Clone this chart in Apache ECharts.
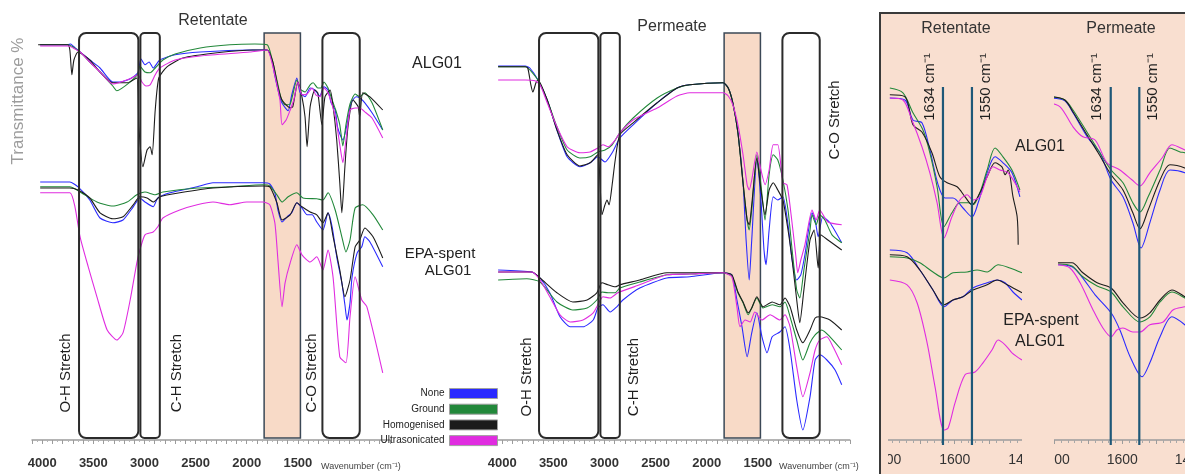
<!DOCTYPE html>
<html>
<head>
<meta charset="utf-8">
<title>FTIR spectra – Retentate and Permeate</title>
<script src="https://cdn.jsdelivr.net/npm/echarts@6/dist/echarts.min.js"></script>
<style>
  html, body { margin: 0; padding: 0; background: #fff; }
  #stage { position: relative; width: 1185px; height: 474px; overflow: hidden; }
  #main { position: absolute; left: 0; top: 0; width: 1185px; height: 474px; }
  .clip { position: absolute; top: 0; height: 474px; overflow: hidden; }
  .clip > div { position: absolute; top: 0; width: 1400px; height: 474px; }
</style>
</head>
<body>
<div id="stage">
  <div id="main"></div>
  <div class="clip" style="left:888px;width:134px"><div id="zoomRet" style="left:-888px"></div></div>
  <div class="clip" style="left:1054px;width:131px"><div id="zoomPer" style="left:-1054px"></div></div>
</div>
<script>
// ---------------- data: [wavenumber (cm-1), transmittance (offset, a.u.)] ----------------
const treatments = ['None', 'Ground', 'Homogenised', 'Ultrasonicated'];

// Retentate, ALG01
const retAlgNone = [[4020,98.8],[3750,98.8],[3720,99],[3700,98.5],[3630,97],[3535,95],[3435,93],[3310,89.5],[3240,89.5],[3140,90.3],[3065,91.8],[3035,95.3],[2995,93.8],[2955,94.5],[2915,93],[2850,95],[2700,96.3],[2455,97],[1970,97.5],[1800,97.5],[1755,95],[1725,91],[1675,85.5],[1645,83.8],[1595,82.3],[1560,86.3],[1510,90.5],[1480,87],[1430,85.8],[1380,88],[1335,87.5],[1285,86],[1245,88.3],[1205,87.5],[1175,84.3],[1135,82.5],[1110,78],[1060,75],[1020,78.8],[980,84.3],[930,85.8],[895,85.5],[845,84.3],[775,81.8],[670,77.5]];
const retAlgGround = [[4020,98.8],[3750,98.8],[3630,97],[3535,94.5],[3435,92],[3310,88.5],[3270,87.3],[3140,89.5],[3065,91.5],[3045,93.5],[2995,92],[2945,91.8],[2895,93],[2820,95],[2700,96.5],[2455,98],[2165,98.8],[1920,99],[1800,98.8],[1755,95.5],[1705,90],[1665,85.5],[1625,83.8],[1575,84],[1510,90],[1480,87.8],[1430,87],[1380,88.8],[1350,89.3],[1305,88],[1275,88],[1245,89.5],[1205,88],[1165,85],[1130,82.5],[1090,78.8],[1060,73.5],[1030,78.8],[990,84],[940,86.5],[895,85.8],[845,86.8],[775,84.3],[670,77.5]];
const retAlgHomog = [[4040,98.8],[3750,98.8],[3730,97.5],[3710,91.3],[3690,95],[3650,97],[3535,95],[3435,92],[3310,89.3],[3170,89.3],[3075,90.5],[3055,78.3],[3015,68.3],[2975,72.5],[2945,73.3],[2925,71.3],[2895,82.5],[2860,90.5],[2780,93.3],[2625,95.5],[2290,96.8],[1940,97.5],[1800,97.5],[1745,94.5],[1695,88.3],[1655,85],[1575,83],[1550,83.3],[1500,89.5],[1460,85.8],[1430,80.8],[1410,73.3],[1380,83.3],[1335,87.5],[1305,86.8],[1265,78.8],[1235,85.8],[1185,87.5],[1155,83.3],[1120,75],[1090,64.3],[1070,56.8],[1040,68.3],[1010,78.3],[960,85],[910,83.3],[895,80.8],[865,86.8],[795,85.8],[670,82.5]];
const retAlgUltra = [[4020,98.5],[3750,98.5],[3630,97],[3535,94.5],[3435,92],[3310,89],[3140,90.3],[3065,91.3],[3025,89.5],[2985,88.5],[2945,88.8],[2895,91.3],[2850,93],[2700,95],[2455,96],[1970,97],[1800,97.5],[1755,94.5],[1715,90],[1675,85],[1655,78.8],[1615,80],[1575,82.5],[1540,85],[1500,89.5],[1460,86.3],[1410,86.5],[1360,88],[1325,86.3],[1285,85.8],[1245,88],[1205,86.8],[1165,83.8],[1130,80.5],[1090,73.8],[1060,69.3],[1030,75],[990,82.5],[940,83],[895,83],[835,81.8],[775,80.5],[670,75.5]];

// Retentate, EPA-spent ALG01
const retEpaNone = [[4020,64.5],[3730,64.5],[3650,63.3],[3535,60],[3435,55.5],[3310,54.3],[3210,55],[3110,58.3],[3045,60.5],[2995,59.5],[2915,58.3],[2870,60.5],[2750,61.8],[2485,63.3],[2330,64.3],[1840,64.3],[1775,64],[1725,61.8],[1695,57.5],[1655,54.5],[1605,55.8],[1560,56.8],[1510,59.3],[1460,58],[1410,56.3],[1360,56.3],[1315,54.5],[1255,52.5],[1205,56.8],[1165,53.3],[1120,45.8],[1070,39.3],[1040,33.8],[1020,30],[990,34.3],[970,40.8],[920,46.8],[875,48.3],[845,50.8],[795,49.5],[670,43.3]];
const retEpaGround = [[4020,63.3],[3730,63.3],[3630,62],[3465,59.5],[3310,58.5],[3170,59.5],[3075,61.3],[2995,62],[2895,61.3],[2820,62],[2485,63],[2165,63.3],[1840,63.8],[1775,63.5],[1705,61.3],[1655,59.5],[1595,60.8],[1510,61.8],[1450,60.5],[1315,60.3],[1255,60],[1205,61.8],[1135,57.5],[1070,50.8],[1030,47],[990,50],[940,58],[865,58.8],[765,56.3],[670,52.5]];
const retEpaHomog = [[4020,63],[3730,63],[3650,62.5],[3535,60.5],[3435,56.8],[3310,55.3],[3210,55.8],[3110,58.8],[3045,60.8],[2975,60.5],[2915,59.5],[2850,60.8],[2655,61.8],[2330,63],[1840,63.5],[1775,63.3],[1705,59.3],[1655,55],[1575,56.3],[1510,59.3],[1460,58.3],[1380,57],[1315,56.3],[1255,54.3],[1205,56.8],[1155,50.8],[1090,42.5],[1040,35.8],[990,40],[940,48.3],[895,50],[845,53],[765,50.8],[670,45.5]];
const retEpaUltra = [[4020,61.8],[3730,61.8],[3680,58.3],[3630,50.8],[3550,43.3],[3465,35.8],[3365,27.5],[3270,25],[3210,26.8],[3140,35],[3075,44.3],[3045,47.5],[2995,51.3],[2915,52],[2870,53.3],[2820,55.5],[2655,57.5],[2485,58.8],[2330,59.5],[2165,58.8],[2000,59.5],[1840,59.5],[1775,58.8],[1725,54.3],[1695,45],[1655,33.3],[1625,39.3],[1575,44.3],[1510,48.8],[1460,46.3],[1380,44.5],[1315,45.8],[1255,42.5],[1205,47.5],[1155,40.5],[1090,20.8],[1030,19.3],[990,30.8],[940,40.8],[875,35],[825,33.3],[670,16.8]];

// Permeate, ALG01
const perAlgNone = [[4040,93.5],[3775,93.5],[3730,93],[3650,90],[3560,85],[3465,77.5],[3365,70.8],[3240,68.3],[3140,69.3],[3065,70.8],[2995,69.5],[2925,71.8],[2850,75.5],[2720,78.8],[2485,84.3],[2290,88],[2165,88.8],[1840,89.3],[1790,88],[1745,84.3],[1695,76.8],[1645,64.3],[1615,50],[1585,40],[1560,50],[1510,70],[1470,60],[1440,47.5],[1420,43.8],[1390,52.5],[1350,60.8],[1305,60],[1255,60.8],[1205,53.8],[1165,45],[1120,40],[1080,41.3],[1040,46.3],[970,56.8],[940,55],[910,50.8],[865,55.8],[795,54.3],[680,49.3]];
const perAlgGround = [[4040,93.3],[3775,93.3],[3650,90],[3560,85],[3465,78.3],[3365,72.5],[3240,70.5],[3140,70.8],[3065,72],[2995,72.5],[2925,73.8],[2850,76.8],[2720,80.5],[2485,85.5],[2290,88],[2165,88.8],[1840,89.3],[1790,88],[1745,84.3],[1695,76.8],[1645,64.3],[1605,55],[1585,52.5],[1560,57.5],[1510,71.3],[1470,63.8],[1430,55],[1390,66.3],[1350,71.3],[1305,70],[1255,65],[1205,57.5],[1165,47.5],[1120,37.5],[1090,35.5],[1050,42.5],[990,52.5],[970,56.3],[930,53.8],[895,56.3],[845,55],[775,51.3],[680,49.3]];
const perAlgHomog = [[4040,93.3],[3775,93.3],[3750,93],[3720,88.8],[3700,87],[3670,89.3],[3650,90],[3560,85],[3465,77.5],[3365,71.3],[3240,68.5],[3140,69.3],[3065,71.3],[3045,65],[3025,56.3],[2995,58.8],[2975,60],[2955,58.8],[2925,63.8],[2895,70],[2850,76.3],[2720,79.3],[2485,84.3],[2290,88],[2165,88.8],[1840,89.3],[1790,88],[1745,84.3],[1695,76.8],[1645,64.3],[1605,55],[1585,53.8],[1560,58.8],[1510,70.5],[1470,62.5],[1430,56.3],[1390,62.5],[1350,64.3],[1305,62.5],[1255,60],[1205,52.5],[1165,45],[1120,35],[1090,29.3],[1050,37.5],[990,50],[950,52.5],[910,43],[885,51.3],[815,50],[680,47.5]];
const perAlgUltra = [[4040,90],[3775,90],[3680,89.8],[3630,88.8],[3560,84.3],[3465,78.3],[3365,73.3],[3240,71.8],[3140,72],[3065,73],[3015,73.8],[2965,73.3],[2895,75],[2850,76.8],[2720,80],[2485,83],[2290,86],[2165,86.8],[1840,86.8],[1790,86],[1745,83.8],[1695,78.8],[1645,71.3],[1605,63.8],[1585,62.5],[1560,65],[1510,72],[1470,67.5],[1430,63.8],[1390,67.5],[1350,73.8],[1305,73.8],[1255,64.3],[1215,63.8],[1175,56.3],[1130,46.3],[1110,41.8],[1080,45],[1040,48.8],[970,57.5],[930,55],[895,57.5],[815,54.5],[680,53.8]];

// Permeate, EPA-spent ALG01
const perEpaNone = [[4040,42.5],[3710,42],[3630,40.5],[3535,36.8],[3435,30.8],[3335,28.3],[3210,28.3],[3110,30],[3065,33],[3015,33.8],[2945,32],[2880,33.3],[2820,35],[2655,38],[2390,40.5],[2165,40.8],[1840,41.8],[1755,41.3],[1705,35],[1655,28.3],[1605,20.8],[1560,26.8],[1510,31.8],[1460,25.8],[1410,21.8],[1360,25.8],[1285,27],[1235,28.3],[1185,22.5],[1120,10],[1060,2.5],[990,10.8],[940,20],[895,21.3],[825,20],[745,17.5],[680,13.8]];
const perEpaGround = [[4040,40],[3760,40.3],[3630,39.5],[3465,34.5],[3310,32.5],[3170,33],[3075,35],[3025,37],[2965,36.8],[2895,36.8],[2850,38],[2655,39.5],[2390,41.3],[2165,41.5],[1840,41.8],[1755,41],[1695,36.8],[1645,34.3],[1595,31.3],[1560,33],[1510,35.5],[1450,33],[1360,33.8],[1285,33.3],[1235,34.5],[1185,30.8],[1120,25],[1060,20],[990,24.3],[940,26.3],[875,27.5],[795,25.8],[680,22.5]];
const perEpaHomog = [[4040,42],[3710,42],[3630,40.5],[3465,36.8],[3310,34.5],[3170,35],[3075,36.8],[3025,39.3],[2965,38.8],[2895,38.3],[2850,38.8],[2655,40],[2390,41.8],[2165,41.8],[1840,41.8],[1755,41.3],[1695,37],[1645,34.5],[1595,31.8],[1560,33],[1510,35.8],[1450,33.3],[1360,34.5],[1285,33.8],[1235,35.5],[1185,33.3],[1120,27.5],[1060,24.3],[990,27.5],[940,30.5],[895,30.8],[795,30],[680,27.5]];
const perEpaUltra = [[4040,42],[3710,42],[3630,40],[3535,35.8],[3435,31.3],[3335,29.5],[3210,30],[3110,31.8],[3065,33.8],[3015,35.8],[2945,35.5],[2870,36.8],[2655,38.8],[2390,41.3],[2165,41.5],[1840,41.8],[1755,40.8],[1705,33.3],[1675,28.3],[1625,30],[1575,29.5],[1530,32],[1460,30],[1380,31.3],[1285,30],[1235,31.3],[1185,28.3],[1120,18.3],[1060,10.8],[990,16.8],[940,22.5],[895,25],[825,25.8],[765,23.3],[680,18.8]];

// Expanded amide region (1800–1400 cm-1), Retentate
const zoomRetAlgNone = [[1788,85.5],[1744,85],[1721,80],[1695,79.3],[1672,72.5],[1648,63.8],[1628,60.5],[1605,60.5],[1576,58],[1550,55.8],[1532,59.3],[1506,66.8],[1483,70.8],[1460,69.3],[1434,66.8],[1411,60.8]];
const zoomRetAlgGround = [[1788,88],[1750,86.8],[1721,81.8],[1692,77.5],[1672,71.8],[1651,63.3],[1631,53.3],[1608,56.8],[1585,59.3],[1561,59.3],[1547,58.8],[1527,61.8],[1506,67.5],[1483,73],[1460,70.8],[1434,67.5],[1411,62.5]];
const zoomRetAlgHomog = [[1788,86.3],[1744,85.8],[1721,78.8],[1695,77],[1666,71.8],[1643,65.8],[1622,64.3],[1593,63.3],[1570,60.8],[1550,58.8],[1527,61.8],[1506,65.8],[1483,69.3],[1463,68.3],[1454,66.3],[1445,67.5],[1431,60.8],[1419,55.8],[1416,48.8]];
const zoomRetAlgUltra = [[1788,85.5],[1750,85],[1724,80],[1695,73.3],[1672,66.8],[1651,59.3],[1631,50.5],[1608,55.8],[1585,60],[1564,61.3],[1547,60],[1527,60.8],[1506,65.8],[1489,68.3],[1469,67.5],[1445,66.8],[1411,62]];
const zoomRetEpaNone = [[1788,47.5],[1738,46.8],[1701,42.5],[1663,37.5],[1631,33.3],[1605,35],[1576,35.8],[1547,38],[1506,39.3],[1477,40],[1454,39.3],[1431,37],[1405,35]];
const zoomRetEpaGround = [[1788,45.8],[1738,45.5],[1701,44.3],[1663,42],[1631,40.5],[1605,41.8],[1564,42],[1535,42.5],[1506,42],[1474,43.8],[1440,43],[1405,41.8]];
const zoomRetEpaHomog = [[1788,46.3],[1738,45.8],[1701,42.5],[1663,37.5],[1631,33.8],[1605,35],[1576,35.8],[1547,37.5],[1506,38.8],[1477,40],[1448,38.8],[1405,36.8]];
const zoomRetEpaUltra = [[1788,40],[1738,38.8],[1709,34.3],[1680,24.3],[1657,13.3],[1631,2.5],[1619,3],[1599,9.3],[1570,16.3],[1541,17],[1518,19.3],[1492,22.5],[1474,25],[1454,23.8],[1434,21.8],[1405,20]];

// Expanded amide region (1800–1400 cm-1), Permeate
const zoomPerAlgNone = [[1807,85.5],[1769,84.8],[1745,81.8],[1701,75.5],[1666,71.8],[1633,65],[1598,60.8],[1569,54.3],[1545,48],[1519,54.3],[1489,62.5],[1460,67.5],[1416,66.8],[1405,65.5]];
const zoomPerAlgGround = [[1807,85.8],[1769,85],[1745,82.5],[1704,77],[1671,72.5],[1633,67.5],[1598,64.3],[1569,59.3],[1548,57],[1524,60.8],[1489,67.5],[1460,73],[1430,72],[1416,71.8],[1405,71]];
const zoomPerAlgHomog = [[1807,85.8],[1769,85],[1745,82],[1704,76.3],[1671,71.8],[1633,66.3],[1598,62.5],[1569,56.8],[1548,52.8],[1524,57.5],[1489,65],[1460,68.8],[1416,68],[1405,67]];
const zoomPerAlgUltra = [[1819,84.3],[1783,83.3],[1745,78.3],[1716,75.8],[1680,75],[1645,69.3],[1607,67.5],[1571,65],[1548,63.5],[1519,66.8],[1483,70.5],[1454,73.8],[1416,72.5],[1405,72]];
const zoomPerEpaNone = [[1789,43.8],[1748,43.3],[1719,40.8],[1680,36.3],[1633,31.8],[1607,27.5],[1577,20.8],[1542,15.8],[1519,19.3],[1489,25.8],[1454,30.8],[1416,28.8],[1405,27.5]];
const zoomPerEpaGround = [[1789,44],[1748,43.5],[1716,40.8],[1674,38.5],[1633,37],[1598,33.3],[1548,29.5],[1519,30.8],[1489,34.5],[1454,37],[1416,35.5],[1405,34.8]];
const zoomPerEpaHomog = [[1789,44.3],[1748,44.3],[1716,41.8],[1674,39.3],[1633,38],[1598,34.3],[1548,30.5],[1519,31.8],[1489,35],[1454,37.5],[1416,35.8],[1405,35]];
const zoomPerEpaUltra = [[1789,43.8],[1754,43],[1724,39.3],[1686,32.5],[1657,28],[1633,25.8],[1616,27.5],[1598,28],[1569,27],[1548,27],[1519,28.8],[1480,29.5],[1451,32.5],[1416,33.3],[1405,33.5]];

// Band assignments (cm-1) and marker wavenumbers
const stretchRanges = [[3640, 3060], [3040, 2850], [1260, 895]];
const stretchNames = ['O-H Stretch', 'C-H Stretch', 'C-O Stretch'];
const amideRange = [[1830, 1475]];
const markerLines = [1634, 1550];
const mainTicks = [4000, 3500, 3000, 2500, 2000, 1500];
const zoomTicks = [1800, 1600, 1400];

// ---------------- styling ----------------
const FONT = '"Liberation Sans", Arial, Helvetica, sans-serif';
const lineColors = ['#2a2aff', '#22883a', '#1c1c1c', '#e02ce0'];
const BOX_TOP = 101.75, BOX_BOTTOM = 0.5;
const Y_MIN = -1.25, Y_MAX = 100;

function spectraSeries(groups, axisIndex, smooth) {
  const out = [];
  groups.forEach(group => group.forEach((data, i) => {
    out.push({
      type: 'line', name: treatments[i], data,
      xAxisIndex: axisIndex, yAxisIndex: axisIndex,
      symbol: 'none', showSymbol: false, smooth,
      lineStyle: { width: 1.1, color: lineColors[i] },
      itemStyle: { color: lineColors[i] },
      emphasis: { disabled: true }, silent: true, animation: false, z: 3
    });
  }));
  return out;
}

// Layout of the rotated stretch labels beside each outlined band
const labelLayout = {
  retentate: [{ side: 'left', dx: -13, y: 16.75, r: 7 }, { side: 'right', dx: 17, y: 16.75, r: 4 }, { side: 'left', dx: -11, y: 16.75, r: 7 }],
  permeate: [{ side: 'left', dx: -12, y: 15.75, r: 7 }, { side: 'right', dx: 14, y: 15.75, r: 4 }, { side: 'right', dx: 15, y: 80, r: 7 }]
};

function outlineSeries(axisIndex, layout) {
  return {
    type: 'custom', xAxisIndex: axisIndex, yAxisIndex: axisIndex,
    data: stretchRanges.map(r => [r[0], r[1], 0]),
    encode: { x: [0, 1], y: 2 }, clip: false, silent: true, z: 6, animation: false,
    renderItem: (params, api) => {
      const a = api.coord([api.value(0), BOX_TOP]);
      const b = api.coord([api.value(1), BOX_BOTTOM]);
      const x0 = Math.min(a[0], b[0]), x1 = Math.max(a[0], b[0]);
      const cfg = layout[params.dataIndex];
      const ty = api.coord([api.value(0), cfg.y])[1];
      const tx = (cfg.side === 'left' ? x0 : x1) + cfg.dx;
      return {
        type: 'group',
        children: [
          { type: 'rect', shape: { x: x0, y: a[1], width: x1 - x0, height: b[1] - a[1], r: cfg.r },
            style: { fill: 'none', stroke: '#2b2b2b', lineWidth: 2 } },
          { type: 'text', x: tx, y: ty, rotation: Math.PI / 2,
            style: { text: stretchNames[params.dataIndex], fontSize: 15, fontFamily: FONT, fill: '#1e1e1e',
                     align: 'center', verticalAlign: 'middle' } }
        ]
      };
    }
  };
}

function amideSeries(axisIndex) {
  return {
    type: 'custom', xAxisIndex: axisIndex, yAxisIndex: axisIndex,
    data: amideRange.map(r => [r[0], r[1], 0]),
    encode: { x: [0, 1], y: 2 }, clip: false, silent: true, z: 1, animation: false,
    renderItem: (params, api) => {
      const a = api.coord([api.value(0), BOX_TOP]);
      const b = api.coord([api.value(1), BOX_BOTTOM]);
      const x0 = Math.min(a[0], b[0]), x1 = Math.max(a[0], b[0]);
      return { type: 'rect', shape: { x: x0, y: a[1], width: x1 - x0, height: b[1] - a[1] },
               style: { fill: '#f8dac7', stroke: '#3b4856', lineWidth: 1.5 } };
    }
  };
}

function mainXAxis(gridIndex) {
  return {
    type: 'value', gridIndex, inverse: true, min: 600, max: 4100, interval: 100,
    axisLine: { show: true, lineStyle: { color: '#9c9c9c', width: 1.5 } },
    axisTick: { show: true, length: 4, lineStyle: { color: '#9c9c9c' } },
    minorTick: { show: true, splitNumber: 2, length: 2, lineStyle: { color: '#b4b4b4' } },
    splitLine: { show: false }, minorSplitLine: { show: false },
    axisLabel: {
      margin: 12, fontSize: 13, fontWeight: 'bold', color: '#333', fontFamily: FONT,
      formatter: v => mainTicks.indexOf(v) >= 0 ? String(v) : ''
    }
  };
}

function txt(x, y, text, size, color, extra) {
  return Object.assign({ type: 'text', x, y, z: 50,
    style: { text, fontSize: size, fontFamily: FONT, fill: color || '#222', align: 'center', verticalAlign: 'middle' } }, extra || {});
}

// ---------------- main figure ----------------
const main = echarts.init(document.getElementById('main'), null, { renderer: 'canvas' });
main.setOption({
  animation: false,
  backgroundColor: '#ffffff',
  grid: [
    { left: 32, top: 40, width: 357.9, height: 405, outerBoundsMode: 'none' },
    { left: 492, top: 40, width: 357.9, height: 405, outerBoundsMode: 'none' }
  ],
  xAxis: [mainXAxis(0), mainXAxis(1)],
  yAxis: [
    { type: 'value', gridIndex: 0, min: Y_MIN, max: Y_MAX, show: false },
    { type: 'value', gridIndex: 1, min: Y_MIN, max: Y_MAX, show: false }
  ],
  legend: {
    data: treatments, orient: 'vertical', right: 682, top: 383,
    itemWidth: 48, itemHeight: 10, itemGap: 4.7, align: 'right', icon: 'rect',
    selectedMode: false,
    itemStyle: { borderColor: '#a0a0a0', borderWidth: 1 },
    textStyle: { fontSize: 10, color: '#222', fontFamily: FONT }
  },
  series: [
    amideSeries(0), amideSeries(1),
    ...spectraSeries([[retAlgNone, retAlgGround, retAlgHomog, retAlgUltra], [retEpaNone, retEpaGround, retEpaHomog, retEpaUltra]], 0, 0.2),
    ...spectraSeries([[perAlgNone, perAlgGround, perAlgHomog, perAlgUltra], [perEpaNone, perEpaGround, perEpaHomog, perEpaUltra]], 1, 0.2),
    outlineSeries(0, labelLayout.retentate), outlineSeries(1, labelLayout.permeate)
  ],
  graphic: [
    // expanded-region panel
    { type: 'rect', z: 0, shape: { x: 880, y: 13, width: 330, height: 480 },
      style: { fill: '#f9dfd0', stroke: '#3a3a3a', lineWidth: 2 } },
    txt(18, 101, 'Transmittance %', 17, '#9c9c9c', { rotation: Math.PI / 2 }),
    txt(213, 21, 'Retentate', 16, '#333'),
    txt(672, 27, 'Permeate', 16, '#333'),
    txt(437, 64, 'ALG01', 16, '#222'),
    txt(440, 254, 'EPA-spent', 15, '#222'),
    txt(448, 271, 'ALG01', 15, '#222'),
    { type: 'text', x: 321, y: 467, z: 50, style: { text: 'Wavenumber (cm⁻¹)', fontSize: 9, fontFamily: FONT, fill: '#444', align: 'left', verticalAlign: 'middle' } },
    { type: 'text', x: 779, y: 467, z: 50, style: { text: 'Wavenumber (cm⁻¹)', fontSize: 9, fontFamily: FONT, fill: '#444', align: 'left', verticalAlign: 'middle' } },
    txt(956, 29, 'Retentate', 16, '#333'),
    txt(1121, 29, 'Permeate', 16, '#333'),
    txt(1040, 147, 'ALG01', 16, '#222'),
    txt(1041, 321, 'EPA-spent', 16, '#222'),
    txt(1040, 342, 'ALG01', 16, '#222')
  ]
});

// ---------------- expanded 1800–1400 cm-1 views ----------------
function markerSeries() {
  return {
    type: 'custom', data: markerLines.map(w => [w, 0]), encode: { x: 0, y: 1 },
    clip: false, silent: true, z: 6, animation: false,
    renderItem: (params, api) => {
      const w = api.value(0);
      const top = api.coord([w, 88.25]);
      const bottom = api.coord([w, Y_MIN]);
      const dx = params.dataIndex === 0 ? -13.5 : 14;
      return {
        type: 'group',
        children: [
          { type: 'line', shape: { x1: top[0], y1: top[1], x2: bottom[0], y2: bottom[1] },
            style: { stroke: '#1e5878', lineWidth: 2.2 } },
          { type: 'text', x: top[0] + dx, y: top[1], rotation: Math.PI / 2,
            style: { text: w + ' cm⁻¹', fontSize: 15, fontFamily: FONT, fill: '#1e1e1e', align: 'center', verticalAlign: 'middle' } }
        ]
      };
    }
  };
}

function zoomOption(left, width, groups) {
  return {
    animation: false,
    grid: { left, top: 40, width, height: 405, outerBoundsMode: 'none' },
    xAxis: {
      type: 'value', inverse: true, min: 1400, max: 1860, interval: 100,
      axisLine: { show: true, lineStyle: { color: '#9c9c9c', width: 1.5 } },
      axisTick: { show: true, length: 4, lineStyle: { color: '#9c9c9c' } },
      minorTick: { show: true, splitNumber: 5, length: 3, lineStyle: { color: '#a8a8a8' } },
      splitLine: { show: false }, minorSplitLine: { show: false },
      axisLabel: { margin: 8, fontSize: 14, color: '#333', fontFamily: FONT,
        formatter: v => zoomTicks.indexOf(v) >= 0 ? String(v) : '' }
    },
    yAxis: { type: 'value', min: Y_MIN, max: Y_MAX, show: false },
    series: [...spectraSeries(groups, 0, 0.3), markerSeries()]
  };
}

const zoomRet = echarts.init(document.getElementById('zoomRet'));
zoomRet.setOption(zoomOption(865, 158.7, [
  [zoomRetAlgNone, zoomRetAlgGround, zoomRetAlgHomog, zoomRetAlgUltra],
  [zoomRetEpaNone, zoomRetEpaGround, zoomRetEpaHomog, zoomRetEpaUltra]
]));

const zoomPer = echarts.init(document.getElementById('zoomPer'));
zoomPer.setOption(zoomOption(1033.9, 156.4, [
  [zoomPerAlgNone, zoomPerAlgGround, zoomPerAlgHomog, zoomPerAlgUltra],
  [zoomPerEpaNone, zoomPerEpaGround, zoomPerEpaHomog, zoomPerEpaUltra]
]));
</script>
</body>
</html>
